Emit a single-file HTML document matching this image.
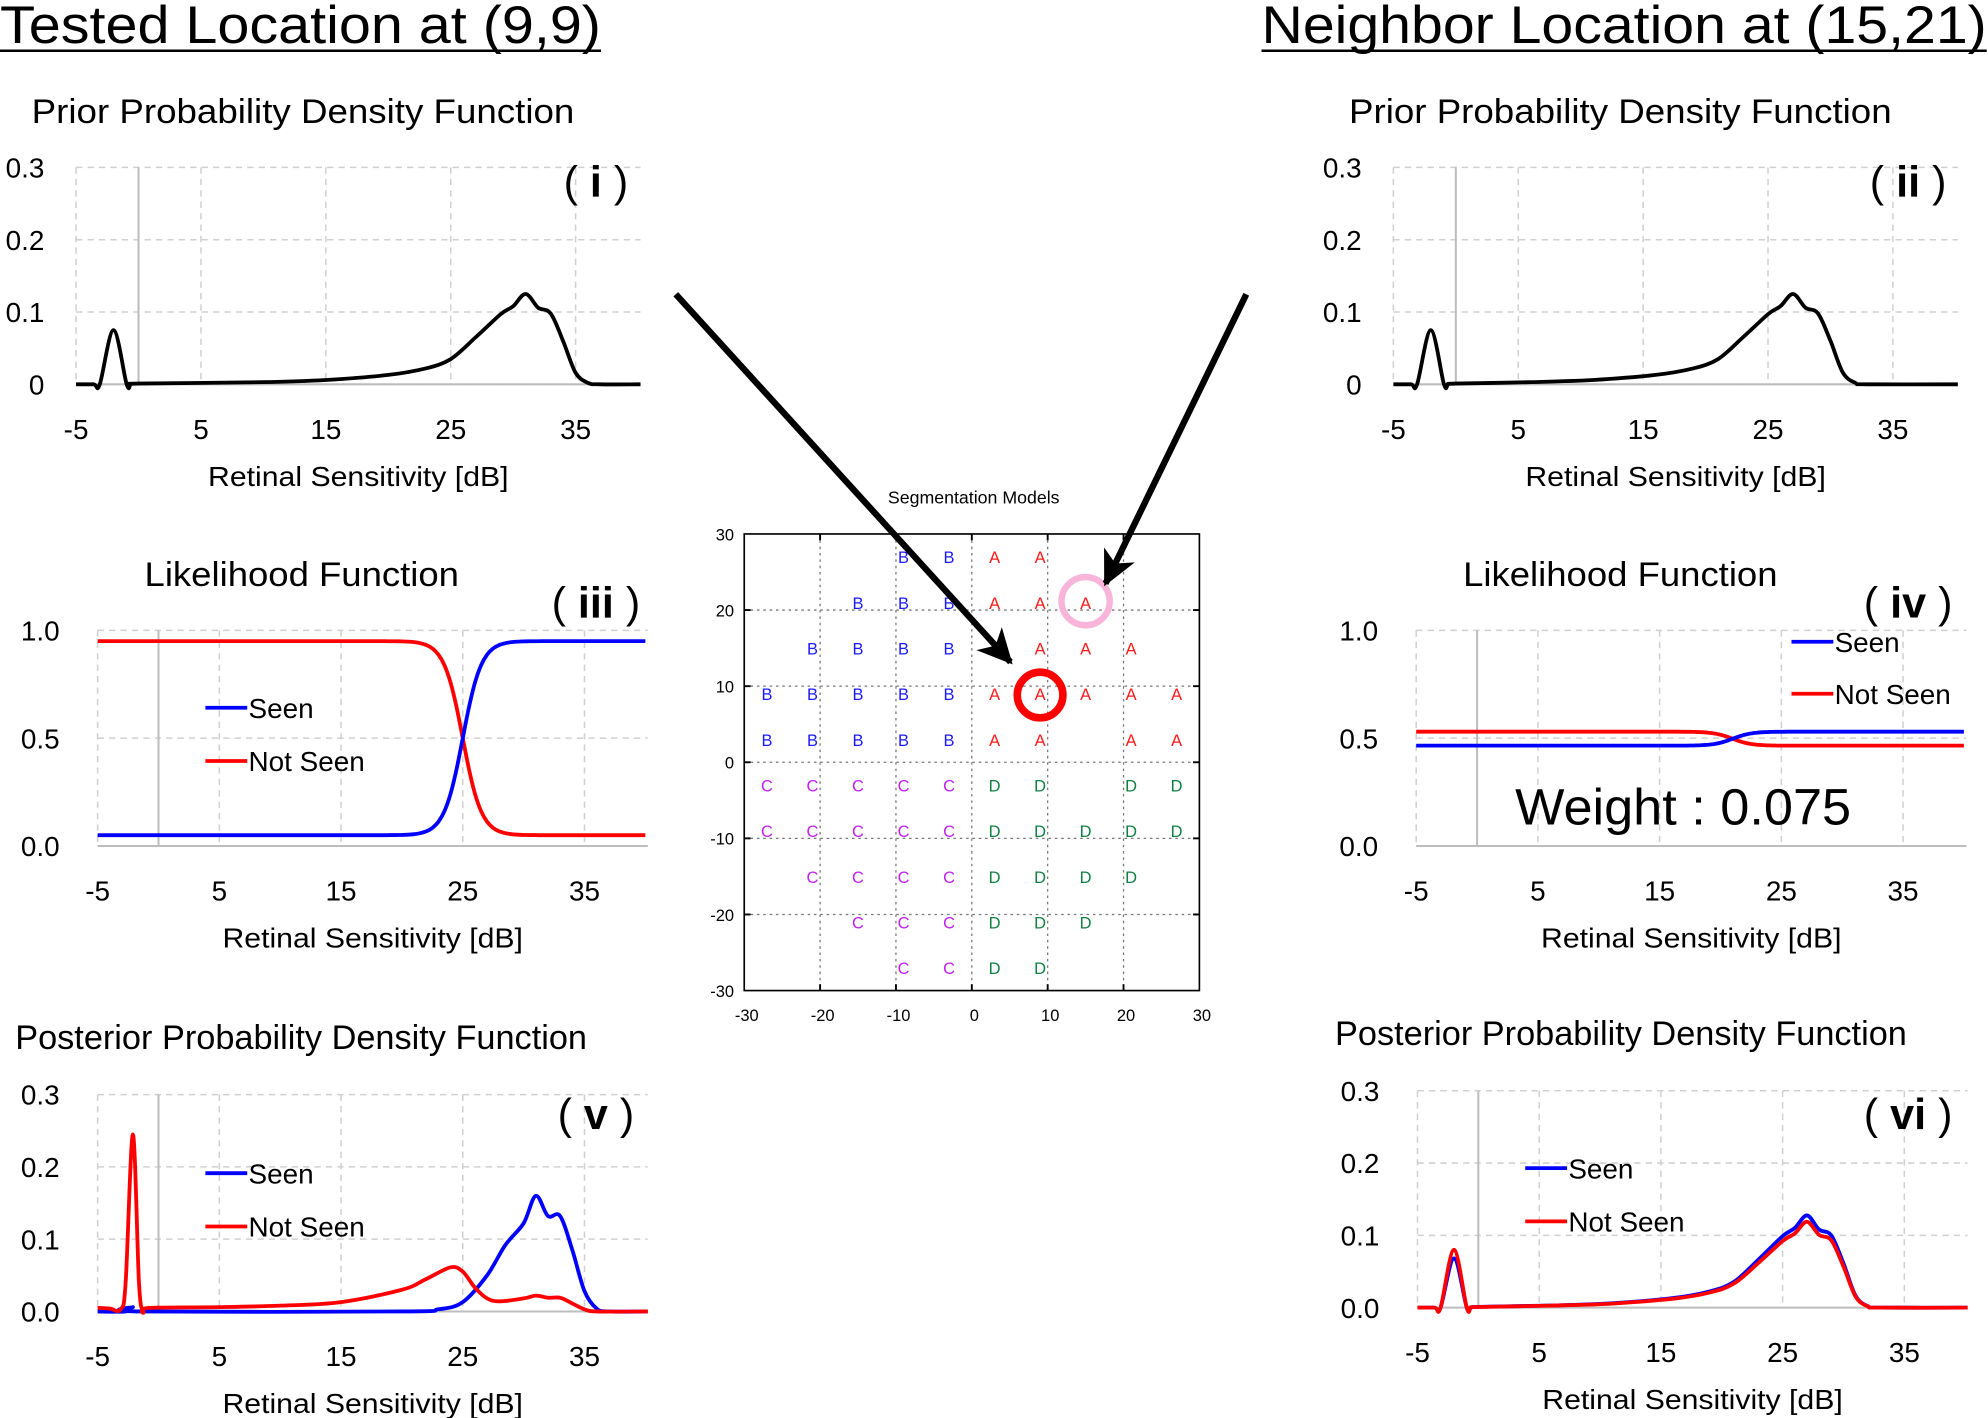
<!DOCTYPE html>
<html><head><meta charset="utf-8"><style>
html,body{margin:0;padding:0;background:#fff;}
svg{display:block;}
text{font-family:"Liberation Sans",sans-serif;fill:#000;}
</style></head><body>
<svg id="s" width="1988" height="1418" viewBox="0 0 1568 1118" preserveAspectRatio="none" xmlns="http://www.w3.org/2000/svg">
<defs>
<marker id="ah" markerWidth="6" markerHeight="6" refX="5" refY="3" orient="auto" markerUnits="strokeWidth">
<path d="M0,0.3 L5.5,3 L0,5.7 L1.5,3 Z" fill="#000"/>
</marker>
</defs>
<text x="0" y="34" font-size="42" textLength="474" lengthAdjust="spacingAndGlyphs">Tested Location at (9,9)</text>
<line x1="0" y1="40" x2="474" y2="40" stroke="#000" stroke-width="2"/>
<text x="995" y="34" font-size="42" textLength="572" lengthAdjust="spacingAndGlyphs">Neighbor Location at (15,21)</text>
<line x1="995" y1="40" x2="1567" y2="40" stroke="#000" stroke-width="2"/>
<g id="g"></g>
</svg>
<script>
var NS="http://www.w3.org/2000/svg",G=document.getElementById("g");
function el(t,a,txt){var e=document.createElementNS(NS,t);for(var k in a)e.setAttribute(k,a[k]);if(txt!=null)e.textContent=txt;G.appendChild(e);return e;}
function txt(x,y,s,fs,o){o=o||{};var a={x:x,y:y,"font-size":fs};for(var k in o)a[k]=o[k];return el("text",a,s);}
function cr(pts){
 var d="M"+pts[0][0].toFixed(1)+","+pts[0][1].toFixed(1);
 for(var i=0;i<pts.length-1;i++){var p0=pts[Math.max(0,i-1)],p1=pts[i],p2=pts[i+1],p3=pts[Math.min(pts.length-1,i+2)];
  var c1=[p1[0]+(p2[0]-p0[0])/6,p1[1]+(p2[1]-p0[1])/6],c2=[p2[0]-(p3[0]-p1[0])/6,p2[1]-(p3[1]-p1[1])/6];
  d+=" C"+c1[0].toFixed(1)+","+c1[1].toFixed(1)+" "+c2[0].toFixed(1)+","+c2[1].toFixed(1)+" "+p2[0].toFixed(1)+","+p2[1].toFixed(1);}
 return d;}
function panel(P){
 var X=function(d){return P.xm5+(d+5)*P.ppd;},Y=function(v){return P.y0-v*P.ppu;};
 var xr=X(40.2);
 P.yt.forEach(function(v){el("line",{x1:X(-5),x2:xr,y1:Y(v),y2:Y(v),stroke:"#d0d0d0","stroke-width":1.2,"stroke-dasharray":"5,4"});});
 [-5,5,15,25,35].forEach(function(d){el("line",{x1:X(d),x2:X(d),y1:Y(P.yt[P.yt.length-1]),y2:P.y0,stroke:"#d0d0d0","stroke-width":1.2,"stroke-dasharray":"5,4"});});
 el("line",{x1:X(0),x2:X(0),y1:Y(P.yt[P.yt.length-1]),y2:P.y0,stroke:"#bdbdbd","stroke-width":1.6});
 el("line",{x1:X(-5),x2:xr,y1:P.y0,y2:P.y0,stroke:"#bdbdbd","stroke-width":1.6});
 P.yt.forEach(function(v,i){txt(X(-5)-P.yl,Y(v)+8,P.ylab[i],22,{"text-anchor":"end"});});
 [-5,5,15,25,35].forEach(function(d){txt(X(d),P.y0+43,String(d),22,{"text-anchor":"middle"});});
 txt(X(17.6),P.y0+80,"Retinal Sensitivity [dB]",22,{"text-anchor":"middle",textLength:237,lengthAdjust:"spacingAndGlyphs"});
 txt(P.tx,P.ty,P.title,27,{textLength:P.tw,lengthAdjust:"spacingAndGlyphs"});
 var lab=el("text",{x:P.lx,y:P.ly,"font-size":34,"text-anchor":"middle"});
 lab.innerHTML='(<tspan font-weight="bold"> '+P.lab+' </tspan>)';
 P.series.forEach(function(s){
  var pts=s.pts.map(function(p){return [X(p[0]),Y(p[1])];});
  el("path",{d:cr(pts),fill:"none",stroke:s.c,"stroke-width":3,"stroke-linejoin":"round"});});
 if(P.leg){P.leg.forEach(function(l){el("line",{x1:l[0],x2:l[0]+33,y1:l[1],y2:l[1],stroke:l[2],"stroke-width":3});txt(l[0]+34,l[1]+8,l[3],22);});}
}
function prior(shift,sp,sc){
 var m=[[0,0.001],[10,0.003],[15,0.006],[20,0.013],[23,0.022],[25,0.035],[27,0.065],[29,0.097],[30,0.108],[31,0.125],[32,0.106],[33,0.098],[34,0.06],[35,0.016],[36,0.002],[37,0]];
 var p=[[-5,0],[-3.6,0],[-3.1,0],[-2.0,sp],[-0.95,0],[-0.6,0]];
 m.forEach(function(q){var d=q[0]===0?0:q[0]+shift;p.push([d,q[1]*sc]);});
 p.push([40.2,0]);return p;}
function logi(c,lo,hi,k,inv){var p=[];for(var d=-5;d<=40.2;d+=0.5){var s=1/(1+Math.exp(-(d-c)*k));if(inv)s=1-s;p.push([d,lo+(hi-lo)*s]);}return p;}
var prl=["0","0.1","0.2","0.3"],pol=["0.0","0.1","0.2","0.3"],ll=["0.0","0.5","1.0"];
panel({xm5:60,ppd:9.85,y0:303,ppu:570,yt:[0,0.1,0.2,0.3],ylab:prl,yl:25,title:"Prior Probability Density Function",tx:25,ty:97,tw:428,lab:"i",lx:470,ly:155,
 series:[{c:"#000",pts:prior(0,0.075,1)}]});
panel({xm5:1099,ppd:9.85,y0:303,ppu:570,yt:[0,0.1,0.2,0.3],ylab:prl,yl:25,title:"Prior Probability Density Function",tx:1064,ty:97,tw:428,lab:"ii",lx:1505,ly:155,
 series:[{c:"#000",pts:prior(-4,0.075,1)}]});
panel({xm5:77,ppd:9.6,y0:667,ppu:170,yt:[0,0.5,1.0],ylab:ll,yl:30,title:"Likelihood Function",tx:114,ty:462,tw:248,lab:"iii",lx:470,ly:487,
 series:[{c:"#f00",pts:logi(25,0.05,0.95,1.3,true)},{c:"#00f",pts:logi(25,0.05,0.95,1.3,false)}],
 leg:[[162,558,"#00f","Seen"],[162,600,"#f00","Not Seen"]]});
panel({xm5:1117,ppd:9.6,y0:667,ppu:170,yt:[0,0.5,1.0],ylab:ll,yl:30,title:"Likelihood Function",tx:1154,ty:462,tw:248,lab:"iv",lx:1505,ly:487,
 series:[{c:"#f00",pts:logi(21,0.465,0.53,1.3,true)},{c:"#00f",pts:logi(21,0.465,0.53,1.3,false)}],
 leg:[[1413,506,"#00f","Seen"],[1413,547,"#f00","Not Seen"]]});
txt(1195,650,"Weight : 0.075",40,{textLength:265,lengthAdjust:"spacingAndGlyphs"});
var vr=[[-5,0.005],[-4,0.004],[-3.1,0.003],[-2.7,0.04],[-2.1,0.245],[-1.6,0.04],[-1.25,0],[-0.8,0.005],[5,0.006],[10,0.008],[15,0.013],[20,0.03],[22,0.045],[24,0.061],[25,0.055],[26,0.033],[27,0.018],[28,0.014],[30,0.018],[31,0.022],[32,0.019],[33,0.019],[34,0.011],[35,0.003],[36,0],[40.2,0]];
var vb=[[-5,0],[-2.7,0],[-2.1,0.006],[-1.5,0],[20,0],[23,0.003],[25,0.013],[27,0.05],[28.5,0.092],[30,0.122],[31,0.16],[32,0.132],[33,0.132],[34,0.085],[35,0.028],[36,0.004],[37,0],[40.2,0]];
panel({xm5:77,ppd:9.6,y0:1034,ppu:570,yt:[0,0.1,0.2,0.3],ylab:pol,yl:30,title:"Posterior Probability Density Function",tx:12,ty:827,tw:451,lab:"v",lx:470,ly:890,
 series:[{c:"#00f",pts:vb},{c:"#f00",pts:vr}],
 leg:[[162,925,"#00f","Seen"],[162,967,"#f00","Not Seen"]]});
panel({xm5:1118,ppd:9.6,y0:1031,ppu:570,yt:[0,0.1,0.2,0.3],ylab:pol,yl:30,title:"Posterior Probability Density Function",tx:1053,ty:824,tw:451,lab:"vi",lx:1505,ly:890,
 series:[{c:"#00f",pts:prior(-4,0.068,1.02)},{c:"#f00",pts:prior(-4,0.08,0.95)}],
 leg:[[1203,921,"#00f","Seen"],[1203,963,"#f00","Not Seen"]]});
var SX=function(u){return 587+(u+30)*359/60;},SY=function(v){return 421+(30-v)*360/60;};
txt(768,397,"Segmentation Models",14,{"text-anchor":"middle"});
[-20,-10,0,10,20].forEach(function(t){
 el("line",{x1:SX(t),x2:SX(t),y1:SY(30),y2:SY(-30),stroke:"#777","stroke-width":1,"stroke-dasharray":"2,3"});
 el("line",{x1:SX(-30),x2:SX(30),y1:SY(t),y2:SY(t),stroke:"#777","stroke-width":1,"stroke-dasharray":"2,3"});
 el("line",{x1:SX(t),x2:SX(t),y1:SY(-30),y2:SY(-30)-5,stroke:"#000","stroke-width":1.5});
 el("line",{x1:SX(t),x2:SX(t),y1:SY(30),y2:SY(30)+5,stroke:"#000","stroke-width":1.5});
 el("line",{x1:SX(-30),x2:SX(-30)+5,y1:SY(t),y2:SY(t),stroke:"#000","stroke-width":1.5});
 el("line",{x1:SX(30),x2:SX(30)-5,y1:SY(t),y2:SY(t),stroke:"#000","stroke-width":1.5});});
el("rect",{x:SX(-30),y:SY(30),width:359,height:360,fill:"none",stroke:"#000","stroke-width":1.3});
[-30,-20,-10,0,10,20,30].forEach(function(t){txt(SX(t)+2,805,String(t),13,{"text-anchor":"middle"});txt(579,SY(t)+5,String(t),13,{"text-anchor":"end"});});
var rows={27:"...BBAA...",21:"..BBBAAA..",15:".BBBBAAAA.",9:"BBBBBAAAAA",3:"BBBBBAA.AA","-3":"CCCCCDD.DD","-9":"CCCCCDDDDD","-15":".CCCCDDDD.","-21":"..CCCDDD..","-27":"...CCDD..."};
var col={A:"#ff1a1a",B:"#1a1aff",C:"#c020f0",D:"#108040"};
for(var r in rows){var s=rows[r];for(var i=0;i<10;i++){var ch=s[i];if(ch==".")continue;var u=-27+6*i;
 txt(SX(u),SY(+r)+5,ch,13,{"text-anchor":"middle",style:"fill:"+col[ch]});}}
el("circle",{cx:SX(15),cy:SY(21)-1,r:19,fill:"none",stroke:"#f8b4d9","stroke-width":5});
el("circle",{cx:SX(9),cy:SY(9)+1,r:18,fill:"none",stroke:"#f00","stroke-width":6});
el("line",{x1:533,y1:232,x2:797,y2:522,stroke:"#000","stroke-width":5,"marker-end":"url(#ah)"});
el("line",{x1:983,y1:232,x2:872,y2:460,stroke:"#000","stroke-width":5,"marker-end":"url(#ah)"});
</script>
</body></html>
